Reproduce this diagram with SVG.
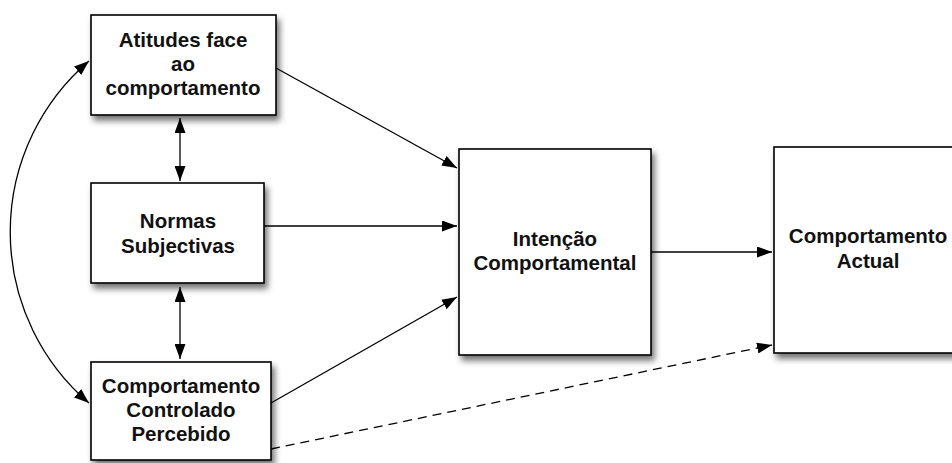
<svg xmlns="http://www.w3.org/2000/svg" width="952" height="463" viewBox="0 0 952 463">
  <defs>
    <filter id="shadow" x="-10%" y="-10%" width="130%" height="130%">
      <feDropShadow dx="3" dy="5" stdDeviation="3" flood-color="#000" flood-opacity="0.55"/>
    </filter>
    <marker id="arrow" viewBox="0 0 15 11" refX="15" refY="5.5" markerWidth="15" markerHeight="11" markerUnits="userSpaceOnUse" orient="auto-start-reverse">
      <path d="M0,0 L15,5.5 L0,11 z" fill="#000"/>
    </marker>
  </defs>
  <style>
    .box { fill: #fff; stroke: #000; stroke-width: 1.6; filter: url(#shadow); }
    .label { font-family: "Liberation Sans", Arial, Helvetica, sans-serif; font-weight: bold; font-size: 20.5px; fill: #111; text-anchor: middle; }
    .edge { fill: none; stroke: #000; stroke-width: 1.3; }
    .dashed { stroke-dasharray: 9 6; }
  </style>
  <rect width="952" height="463" fill="#fff"/>

  <g id="connectors">
    <!-- feedback arc between attitudes and perceived control -->
    <path class="edge" d="M89,61 A225,225 0 0 0 89,403" marker-start="url(#arrow)" marker-end="url(#arrow)"/>
    <!-- mutual links in the left column -->
    <line class="edge" x1="180" y1="118" x2="180" y2="181" marker-start="url(#arrow)" marker-end="url(#arrow)"/>
    <line class="edge" x1="180" y1="287" x2="180" y2="359" marker-start="url(#arrow)" marker-end="url(#arrow)"/>
    <!-- predictors of intention -->
    <line class="edge" x1="276" y1="68" x2="457" y2="168" marker-end="url(#arrow)"/>
    <line class="edge" x1="264" y1="226" x2="457" y2="226" marker-end="url(#arrow)"/>
    <line class="edge" x1="271" y1="403" x2="457" y2="297" marker-end="url(#arrow)"/>
    <!-- intention to behaviour -->
    <line class="edge" x1="651" y1="252" x2="772" y2="252" marker-end="url(#arrow)"/>
    <!-- direct effect of perceived control on behaviour -->
    <line class="edge dashed" x1="271" y1="449" x2="772" y2="345" marker-end="url(#arrow)"/>
  </g>

  <g id="atitudes">
    <rect class="box" x="91" y="15" width="185" height="100"/>
    <text class="label" x="183" y="47">Atitudes face</text>
    <text class="label" x="183" y="71">ao</text>
    <text class="label" x="183" y="95">comportamento</text>
  </g>

  <g id="normas">
    <rect class="box" x="91" y="183" width="173" height="100"/>
    <text class="label" x="178" y="228">Normas</text>
    <text class="label" x="178" y="253">Subjectivas</text>
  </g>

  <g id="controlo">
    <rect class="box" x="91" y="362" width="180" height="98"/>
    <text class="label" x="181" y="393">Comportamento</text>
    <text class="label" x="181" y="417">Controlado</text>
    <text class="label" x="181" y="441">Percebido</text>
  </g>

  <g id="intencao">
    <rect class="box" x="459" y="149" width="192" height="206"/>
    <text class="label" x="555" y="246">Intenção</text>
    <text class="label" x="555" y="270">Comportamental</text>
  </g>

  <g id="comportamento-actual">
    <rect class="box" x="774" y="147" width="200" height="206"/>
    <text class="label" x="868" y="243">Comportamento</text>
    <text class="label" x="868" y="268">Actual</text>
  </g>
</svg>
